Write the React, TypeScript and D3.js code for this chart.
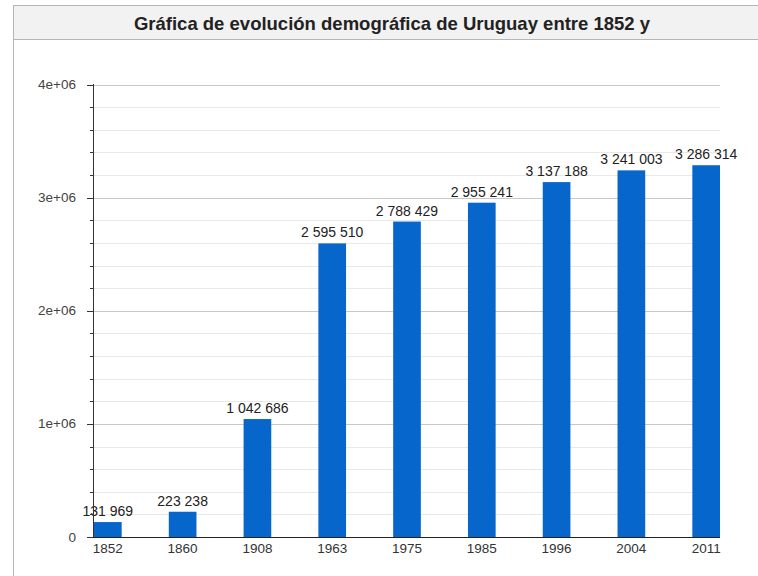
import React from "react";
import * as d3 from "d3";

const years = ["1852", "1860", "1908", "1963", "1975", "1985", "1996", "2004", "2011"];
const population = [131969, 223238, 1042686, 2595510, 2788429, 2955241, 3137188, 3241003, 3286314];
const majorTicks = [0, 1000000, 2000000, 3000000, 4000000];
const majorTickLabels = ["0", "1e+06", "2e+06", "3e+06", "4e+06"];
const minorTicks = d3.range(0, 4000001, 200000);
const title = "Gráfica de evolución demográfica de Uruguay entre 1852 y";

const W = 758;
const H = 576;

export default function App() {
  const x = d3.scaleBand<string>().domain(years).range([94, 720]).paddingInner(0.63).paddingOuter(0);
  const y = d3.scaleLinear().domain([0, 4000000]).range([537, 84.5]);
  const fmt = (v: number) => d3.format(",")(v).replace(/,/g, " ");
  const font = "Liberation Sans, Arial, sans-serif";
  return (
    <svg width={W} height={H} style={{ position: "absolute", left: 0, top: 0, background: "#fff" }} fontFamily={font}>
      <rect x={13.5} y={5.5} width={W} height={H} fill="#fff" stroke="#b5b5b5" />
      <rect x={13.5} y={5.5} width={W} height={34} fill="#f2f2f2" stroke="#b5b5b5" />
      <text x={392} y={29.5} textAnchor="middle" fontSize={18.5} fontWeight="bold" fill="#222">{title}</text>
      {minorTicks.map((t) => (
        <line key={"g" + t} x1={93} x2={720} y1={Math.round(y(t)) + 0.5} y2={Math.round(y(t)) + 0.5}
          stroke={t % 1000000 === 0 ? "#c8c8c8" : "#e8e8e8"} />
      ))}
      {years.map((yr, i) => (
        <rect key={yr} x={x(yr)} y={y(population[i])} width={x.bandwidth()} height={y(0) - y(population[i])} fill="#0766cc" />
      ))}
      {years.map((yr, i) => (
        <text key={"v" + yr} x={(x(yr) as number) + x.bandwidth() / 2} y={y(population[i]) - 6}
          textAnchor="middle" fontSize={14} fill="#222">{fmt(population[i])}</text>
      ))}
      {minorTicks.map((t) => (
        <line key={"t" + t} x1={t % 1000000 === 0 ? 87 : 90} x2={93} y1={Math.round(y(t)) + 0.5} y2={Math.round(y(t)) + 0.5} stroke="#333" />
      ))}
      <line x1={93.5} x2={93.5} y1={84} y2={537} stroke="#333" />
      <line x1={93} x2={720} y1={537.5} y2={537.5} stroke="#222" />
      {majorTicks.map((t, i) => (
        <text key={"l" + t} x={76} y={y(t) + 4.5} textAnchor="end" fontSize={13.5} fill="#444">{majorTickLabels[i]}</text>
      ))}
      {years.map((yr) => (
        <text key={"x" + yr} x={(x(yr) as number) + x.bandwidth() / 2} y={553} textAnchor="middle" fontSize={13.5} fill="#333">{yr}</text>
      ))}
    </svg>
  );
}
